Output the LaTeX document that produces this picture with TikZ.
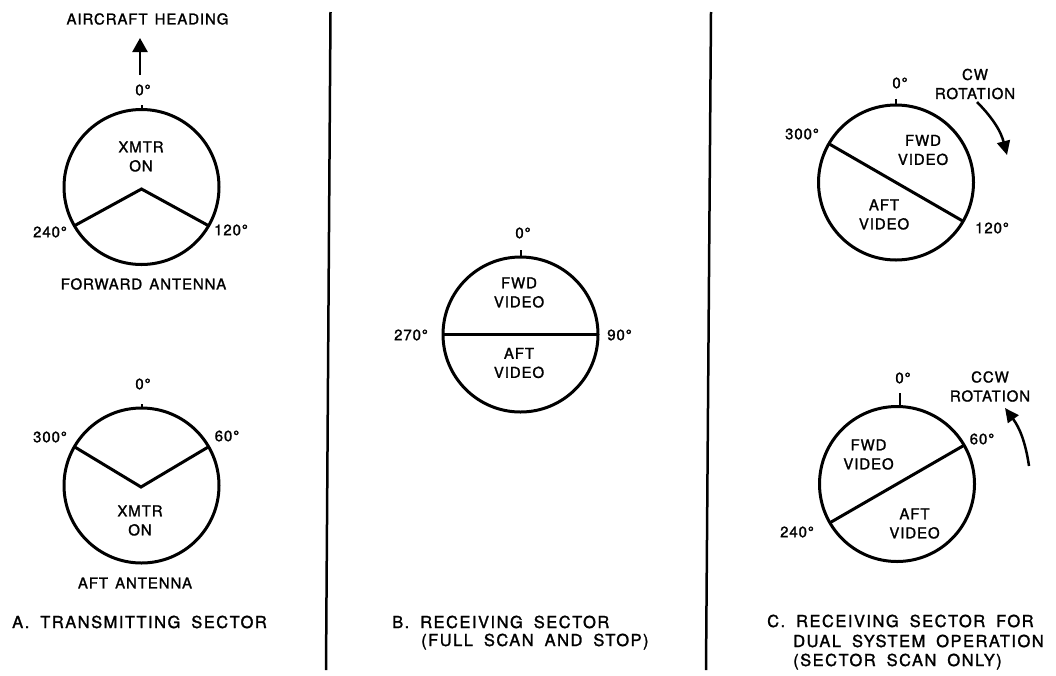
\documentclass[tikz,border=0pt]{standalone}
\usepackage{fontspec}
\setmainfont{TeX Gyre Heros}
\newfontfamily\lblfont{TeX Gyre Heros}[LetterSpace=6,WordSpace=1.4,FakeBold=1.4]
\newfontfamily\ttlfont{TeX Gyre Heros}[LetterSpace=9,WordSpace=1.8,FakeBold=1.5]
\usetikzlibrary{arrows.meta,calc}
\tikzset{
  dial/.style={circle, draw, line width=3pt, minimum size=155pt, inner sep=0pt, outer sep=0pt},
  lbl/.style={font=\lblfont\fontsize{15pt}{19pt}\selectfont, inner sep=0pt, align=center},
  ttl/.style={font=\ttlfont\fontsize{16.5pt}{19pt}\selectfont, inner sep=0pt, anchor=base west},
  sector/.style={line width=3pt, line join=miter},
  dialtick/.style={line width=2pt},
  divider/.style={line width=2.5pt},
  heading/.style={line width=2.5pt, -{Triangle[length=14pt,width=15pt]}},
  rot/.style={line width=2.5pt, -{Triangle[length=14pt,width=13pt]}},
}
\begin{document}
\begin{tikzpicture}[x=1pt, y=-1pt]
\useasboundingbox (0,0) rectangle (1056,675);

% dividers
\coordinate (d1t) at (330.5,12);
\coordinate (d1b) at (326,670);
\coordinate (d2t) at (711,12);
\coordinate (d2b) at (706,670);
\draw[divider] (d1t) -- (d1b);
\draw[divider] (d2t) -- (d2b);

% ---------- Panel A ----------
\node[lbl] (head) at (147.5,19) {AIRCRAFT HEADING};
\coordinate (hTail) at (140,75);
\coordinate (hTip) at (140,38);
\draw[heading] (hTail) -- (hTip);

\node[dial] (cA1) at (141.5,187) {};
\coordinate (tA1) at (141.5,105);
\draw[dialtick] (cA1.north) -- (tA1);
\coordinate (vA1) at (141.5,189);
\draw[sector] (cA1.-150) -- (vA1) -- (cA1.-30);
\node[lbl] (zA1) at (143,90) {0°};
\node[lbl] (xA1) at (141,156.5) {XMTR\\ON};
\node[lbl] (l240A) at (50,232) {240°};
\node[lbl] (l120A) at (231,230) {120°};
\node[lbl] (fwdant) at (143.5,284) {FORWARD ANTENNA};

\node[dial] (cA2) at (141.5,485.5) {};
\coordinate (tA2) at (141.5,404);
\draw[dialtick] (cA2.north) -- (tA2);
\coordinate (vA2) at (141,487);
\draw[sector] (cA2.150) -- (vA2) -- (cA2.30);
\node[lbl] (zA2) at (143,384) {0°};
\node[lbl] (l300A) at (50,437) {300°};
\node[lbl] (l60A) at (227,436) {60°};
\node[lbl] (xA2) at (140,520.5) {XMTR\\ON};
\node[lbl] (aftant) at (135,583) {AFT ANTENNA};

\node[ttl] (ttlA) at (12,628) {A. TRANSMITTING SECTOR};

% ---------- Panel B ----------
\node[dial] (cB) at (520.5,334.5) {};
\coordinate (tB) at (520.5,250);
\draw[dialtick] (cB.north) -- (tB);
\draw[sector] (cB.180) -- (cB.0);
\node[lbl] (zB) at (523,233) {0°};
\node[lbl] (l270B) at (411,335) {270°};
\node[lbl] (l90B) at (619.5,335) {90°};
\node[lbl] (fwdB) at (519,292.5) {FWD\\VIDEO};
\node[lbl] (aftB) at (519,363) {AFT\\VIDEO};
\node[ttl] (ttlB1) at (392,628) {B. RECEIVING SECTOR};
\node[ttl] (ttlB2) at (421,646) {(FULL SCAN AND STOP)};

% ---------- Panel C ----------
\node[dial] (cC1) at (896,182.5) {};
\coordinate (tC1) at (896,99);
\draw[dialtick] (cC1.north) -- (tC1);
\draw[sector] (cC1.150) -- (cC1.-30);
\node[lbl] (zC1) at (900,83) {0°};
\node[lbl] (l300C) at (802,134) {300°};
\node[lbl] (l120C) at (992,228) {120°};
\node[lbl] (fwdC1) at (923,150) {FWD\\VIDEO};
\node[lbl] (aftC1) at (884,214.5) {AFT\\VIDEO};
\node[lbl] (cw) at (975,84) {CW\\ROTATION};
\coordinate (cwA) at (977,102);
\coordinate (cwB) at (1007,155);
\draw[rot] (cwA) to[bend left=15] (cwB);

\node[dial] (cC2) at (897,484) {};
\coordinate (tC2b) at (900,406);
\coordinate (tC2) at (900,393);
\draw[dialtick] (tC2b) -- (tC2);
\draw[sector] (cC2.210) -- (cC2.30);
\node[lbl] (zC2) at (903,378) {0°};
\node[lbl] (l60C) at (982,439) {60°};
\node[lbl] (l240C) at (797,532) {240°};
\node[lbl] (fwdC2) at (868.5,454.5) {FWD\\VIDEO};
\node[lbl] (aftC2) at (914.5,523.5) {AFT\\VIDEO};
\node[lbl] (ccw) at (990,386.5) {CCW\\ROTATION};
\coordinate (ccwA) at (1029,466);
\coordinate (ccwB) at (1005,408);
\draw[rot] (ccwA) to[bend right=14] (ccwB);

\node[ttl] (ttlC1) at (767,627) {C. RECEIVING SECTOR FOR};
\node[ttl] (ttlC2) at (793,647) {DUAL SYSTEM OPERATION};
\node[ttl] (ttlC3) at (793,666) {(SECTOR SCAN ONLY)};
\end{tikzpicture}
\end{document}
